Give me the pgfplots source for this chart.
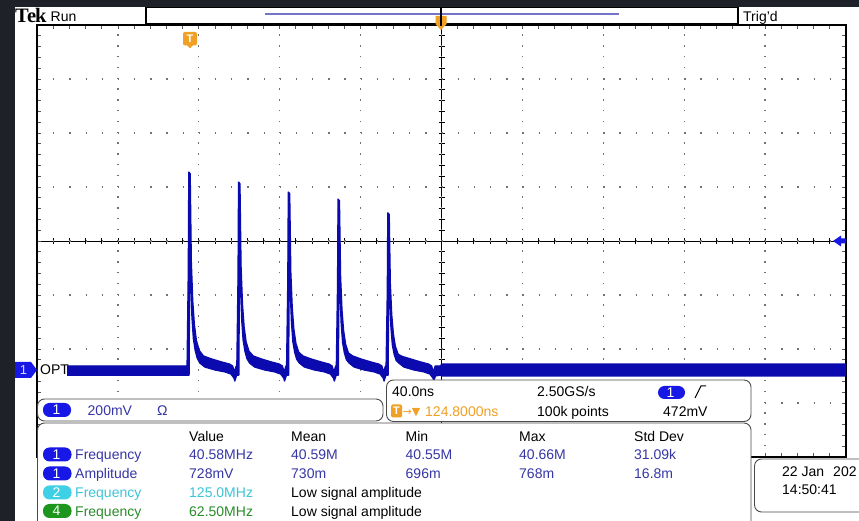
\documentclass[border=0pt]{standalone}
\usepackage{pgfplots}
\pgfplotsset{compat=1.18}
\usepackage{fontspec}
\setmainfont{Liberation Sans}
\newfontfamily\tekfont{Liberation Serif}
\newfontfamily\symfont{DejaVu Sans}
\definecolor{darkbg}{HTML}{1E2127}
\definecolor{trace}{HTML}{0A0AAE}
\definecolor{chblue}{HTML}{1717E6}
\definecolor{txtblue}{HTML}{3636A6}
\definecolor{tekorange}{HTML}{F0A024}
\definecolor{chcyan}{HTML}{3ED0E4}
\definecolor{txtcyan}{HTML}{3CC4D8}
\definecolor{chgreen}{HTML}{1C961C}
\definecolor{txtgreen}{HTML}{2A8C2A}
\definecolor{panel}{HTML}{4A4A4A}
\definecolor{recline}{HTML}{7474C8}
\newcommand\tf{\fontsize{14}{16}\selectfont}
\begin{document}
\begin{tikzpicture}
\useasboundingbox (0,0) rectangle (859pt,521pt);
\fill[darkbg] (0,0) rectangle (859pt,521pt);
\begin{scope}[x=1pt,y=-1pt,yshift=521pt]
\fill[white] (15,7) rectangle (870,530);
\draw[black, line width=0.9pt] (37,241) -- (846,241);
\draw[black, line width=0.9pt] (441.5,25) -- (441.5,457);
\foreach \i in {0,...,50} \draw[black, line width=0.8pt] ({37+16.18*\i},238) -- ({37+16.18*\i},244);
\foreach \i in {0,...,40} \draw[black, line width=0.8pt] (438.5,{25+10.8*\i}) -- (444.5,{25+10.8*\i});
\end{scope}
\begin{axis}[
  at={(37pt,64pt)}, anchor=south west,
  scale only axis, width=809pt, height=432pt,
  xmin=-75.2, xmax=324.8, ymin=-322.2, ymax=1277.8,
  xtick={-75.2,-35.2,4.8,44.8,84.8,124.8,164.8,204.8,244.8,284.8,324.8},
  ytick={-322.2,-122.2,77.8,277.8,477.8,677.8,877.8,1077.8,1277.8},
  minor x tick num=4, minor y tick num=4,
  xticklabels={}, yticklabels={},
  tick align=inside, major tick length=4pt, minor tick length=4pt,
  tick style={black!65, line width=0.8pt},
  grid=major,
  x grid style={black!55, line width=1.3pt, dash pattern=on 1.3pt off 9.5pt},
  y grid style={black!55, line width=1.3pt, dash pattern=on 1.3pt off 14.88pt},
  axis line style={black, line width=1.1pt},
]
% channel 1 trace: upper envelope (left to right) then lower envelope (right to left); time in ns, voltage in mV
\addplot[draw=trace, fill=trace, line width=1.3pt, line join=round] coordinates {
(-75.2,15)
(-1.0,15) (-0.4,367) (-0.15,733) (0.55,727) (1.1,403) (1.8,257) (2.6,169) (3.6,110) (5.0,73) (7.1,52) (11.1,41) (16.0,30) (20.0,22) (21.5,15) (22.4,-7) (23.3,15)
(23.6,15) (24.2,348) (24.45,696) (25.15,690) (25.7,383) (26.4,244) (27.2,160) (28.2,104) (29.6,70) (31.7,52) (35.7,41) (40.6,30) (44.6,22) (46.1,15) (47.0,-7) (47.9,15)
(48.2,15) (48.8,330) (49.05,659) (49.75,653) (50.3,362) (51.0,231) (51.8,152) (52.8,99) (54.2,66) (56.3,52) (60.3,41) (65.2,30) (69.2,22) (70.7,15) (71.6,-7) (72.5,15)
(72.8,15) (73.4,317) (73.65,633) (74.35,627) (74.9,348) (75.6,222) (76.4,146) (77.4,95) (78.8,63) (80.9,52) (84.9,41) (89.8,30) (93.8,22) (95.3,15) (96.2,-7) (97.1,15)
(97.4,15) (98.0,291) (98.25,582) (98.95,576) (99.5,320) (100.2,204) (101.0,134) (102.0,87) (103.4,58) (105.5,50) (109.5,41) (114.4,30) (118.4,22) (119.9,15) (120.8,-7) (121.7,15)
(124.4,15) (124.8,22) (324.8,22)
(324.8,-22) (124.8,-22) (124.4,-19)
(121.8,-22) (121.0,-41) (120.6,-30) (119.1,-15) (116.1,-7) (111.2,0) (106.2,11) (103.7,26) (102.4,35) (101.4,58) (100.5,93) (99.8,157) (99.3,244) (98.9,419) (98.7,291) (98.4,-19) (97.4,-19)
(97.2,-22) (96.4,-41) (96.0,-30) (94.5,-15) (91.5,-7) (86.6,0) (81.6,11) (79.1,26) (77.8,38) (76.8,63) (75.9,101) (75.2,171) (74.7,266) (74.3,456) (74.1,317) (73.8,-19) (72.8,-19)
(72.6,-22) (71.8,-41) (71.4,-30) (69.9,-15) (66.9,-7) (62.0,0) (57.0,11) (54.5,26) (53.2,40) (52.2,66) (51.3,105) (50.6,178) (50.1,277) (49.7,474) (49.5,330) (49.2,-19) (48.2,-19)
(48.0,-22) (47.2,-41) (46.8,-30) (45.3,-15) (42.3,-7) (37.4,0) (32.4,11) (29.9,26) (28.6,42) (27.6,70) (26.7,111) (26.0,188) (25.5,292) (25.1,501) (24.9,348) (24.6,-19) (23.6,-19)
(23.4,-22) (22.6,-41) (22.2,-30) (20.7,-15) (17.7,-7) (12.8,0) (7.8,11) (5.3,26) (4.0,44) (3.0,73) (2.1,117) (1.4,198) (0.9,308) (0.5,528) (0.3,367) (0.0,-19) (-1.0,-19)
(-75.2,-19) (-75.2,15)
};
\end{axis}
\begin{scope}[x=1pt,y=-1pt,yshift=521pt]
% top bar
\node[anchor=base west, inner sep=0] at (15,22.5) {\tekfont\bfseries\fontsize{20.5}{21}\selectfont T\kern-1.8pt e\kern-1pt k};
\node[anchor=base west, inner sep=0] at (50.5,21.7) {\tf Run};
\draw[black, line width=1.2pt, fill=white] (146,7.6) rectangle (738,23.6);
\draw[recline, line width=2pt] (265,14.5) -- (619,14.5);
\fill[tekorange] (435.5,16) -- (446.5,16) -- (446.5,24) -- (441,30) -- (435.5,24) -- cycle;
\draw[black, line width=2pt] (441,7) -- (441,26);
\node[anchor=base west, inner sep=0] at (743,21.7) {\tf Trig'd};
% trigger position marker
\fill[tekorange, rounded corners=2pt] (183,32) rectangle (197,45.5);
\fill[tekorange] (187,45) -- (193,45) -- (190,48.5) -- cycle;
\node[white, inner sep=0] at (190,38.8) {\bfseries\fontsize{11}{11}\selectfont T};
% trigger level marker
\fill[chblue] (833,241) -- (841,235.5) -- (841,238.5) -- (846,238.5) -- (846,243.5) -- (841,243.5) -- (841,246.5) -- cycle;
% channel 1 ground marker and label
\fill[chblue] (15,362) -- (31,362) -- (37,370) -- (31,378) -- (15,378) -- cycle;
\node[white!85!blue, inner sep=0] at (23.5,370) {\fontsize{13}{13}\selectfont 1};
\fill[white] (38.3,361.5) rectangle (66.5,378.8);
\node[anchor=base west, inner sep=0] at (40,375) {\tf OPT};
% channel box
\draw[panel, line width=0.9pt, fill=white, rounded corners=7pt] (37.5,399) rectangle (383,421);
\fill[chblue, rounded corners=6.5pt] (43,403) rectangle (71,417);
\node[white, inner sep=0] at (56.5,410) {\tf 1};
\node[anchor=base west, inner sep=0, txtblue] at (87.5,416) {\tf 200mV};
\node[anchor=base west, inner sep=0, txtblue] at (157,416) {\tf Ω};
% horizontal box
\draw[panel, line width=0.9pt, fill=white, rounded corners=7pt] (386.5,380) rectangle (751,421.5);
\node[anchor=base west, inner sep=0] at (392,396.5) {\tf 40.0ns};
\node[anchor=base west, inner sep=0] at (537,396.5) {\tf 2.50GS/s};
\fill[chblue, rounded corners=6.5pt] (658,386) rectangle (685,399);
\node[white, inner sep=0] at (670.5,392.5) {\tf 1};
\draw[black, line width=1pt] (695,398) -- (701,386) -- (706,386);
\fill[tekorange, rounded corners=1.5pt] (391,404.5) rectangle (402,417.5);
\node[white, inner sep=0] at (396.5,411) {\bfseries\fontsize{11}{11}\selectfont T};
\node[anchor=base west, inner sep=0, tekorange] at (402.5,416) {\symfont\fontsize{11}{11}\selectfont →▼};
\node[anchor=base west, inner sep=0, tekorange] at (425,416.5) {\tf 124.8000ns};
\node[anchor=base west, inner sep=0] at (537,416.5) {\tf 100k points};
\node[anchor=base west, inner sep=0] at (663,416.5) {\tf 472mV};
% measurement box
\draw[panel, line width=0.9pt, fill=white, rounded corners=7pt] (37.5,423) rectangle (751,545);
\node[anchor=base west, inner sep=0] at (189,441.5) {\tf Value};
\node[anchor=base west, inner sep=0] at (291,441.5) {\tf Mean};
\node[anchor=base west, inner sep=0] at (405.5,441.5) {\tf Min};
\node[anchor=base west, inner sep=0] at (519,441.5) {\tf Max};
\node[anchor=base west, inner sep=0] at (634,441.5) {\tf Std Dev};
% row 1
\fill[chblue, rounded corners=6.5pt] (43,447.5) rectangle (71.5,461.5);
\node[white, inner sep=0] at (56.5,454.5) {\tf 1};
\node[anchor=base west, inner sep=0, txtblue] at (75,460) {\tf Frequency};
\node[anchor=base west, inner sep=0, txtblue] at (189,460) {\tf 40.58MHz};
\node[anchor=base west, inner sep=0, txtblue] at (291,460) {\tf 40.59M};
\node[anchor=base west, inner sep=0, txtblue] at (405.5,460) {\tf 40.55M};
\node[anchor=base west, inner sep=0, txtblue] at (519,460) {\tf 40.66M};
\node[anchor=base west, inner sep=0, txtblue] at (634,460) {\tf 31.09k};
% row 2
\fill[chblue, rounded corners=6.5pt] (43,466.5) rectangle (71.5,480.5);
\node[white, inner sep=0] at (56.5,473.5) {\tf 1};
\node[anchor=base west, inner sep=0, txtblue] at (75,479) {\tf Amplitude};
\node[anchor=base west, inner sep=0, txtblue] at (189,479) {\tf 728mV};
\node[anchor=base west, inner sep=0, txtblue] at (291,479) {\tf 730m};
\node[anchor=base west, inner sep=0, txtblue] at (405.5,479) {\tf 696m};
\node[anchor=base west, inner sep=0, txtblue] at (519,479) {\tf 768m};
\node[anchor=base west, inner sep=0, txtblue] at (634,479) {\tf 16.8m};
% row 3
\fill[chcyan, rounded corners=6.5pt] (43,485.5) rectangle (71.5,499.5);
\node[white, inner sep=0] at (56.5,492.5) {\tf 2};
\node[anchor=base west, inner sep=0, txtcyan] at (75,498) {\tf Frequency};
\node[anchor=base west, inner sep=0, txtcyan] at (189,498) {\tf 125.0MHz};
\node[anchor=base west, inner sep=0] at (291,498) {\tf Low signal amplitude};
% row 4
\fill[chgreen, rounded corners=6.5pt] (43,504) rectangle (71.5,518);
\node[white, inner sep=0] at (56.5,511) {\tf 4};
\node[anchor=base west, inner sep=0, txtgreen] at (75,516.5) {\tf Frequency};
\node[anchor=base west, inner sep=0, txtgreen] at (189,516.5) {\tf 62.50MHz};
\node[anchor=base west, inner sep=0] at (291,516.5) {\tf Low signal amplitude};
% date box
\draw[panel, line width=0.9pt, fill=white, rounded corners=7pt] (754.5,459) rectangle (885,512);
\node[anchor=base west, inner sep=0] at (782,476.7) {\tf 22 Jan\hspace{9pt}202};
\node[anchor=base west, inner sep=0] at (782,495) {\tf 14:50:41};
\end{scope}
\end{tikzpicture}
\end{document}
